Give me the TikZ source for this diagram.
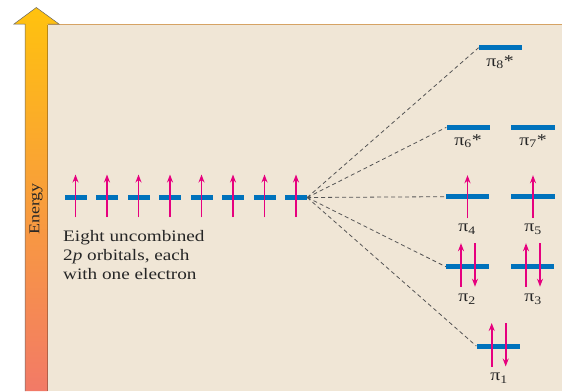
\documentclass[tikz,border=0pt]{standalone}
\usepackage{fontspec}
\setmainfont[FakeStretch=1.2]{Liberation Serif}
\usetikzlibrary{arrows.meta}

\definecolor{panelbg}{RGB}{240,230,214}
\definecolor{paneltop}{RGB}{214,163,100}
\definecolor{panelside}{RGB}{55,40,30}
\definecolor{orbblue}{RGB}{0,114,188}
\definecolor{spin}{RGB}{230,0,126}
\definecolor{arrtop}{RGB}{255,194,14}
\definecolor{arrbot}{RGB}{242,122,103}
\definecolor{dashgray}{RGB}{85,85,85}

\begin{document}
\begin{tikzpicture}[x=1pt,y=-1pt,
  orb/.style={rectangle, fill=orbblue, inner sep=0pt, minimum height=5pt, minimum width=43pt},
  espin/.style={draw=spin, fill=spin, line width=1.6pt, -{Stealth[length=8pt,width=6pt]}},
  conn/.style={draw=dashgray, line width=0.8pt, dash pattern=on 4pt off 3pt},
  lbl/.style={font=\fontsize{16.5}{18}\selectfont, inner sep=0pt, text=black!85}
]
\useasboundingbox (0,0) rectangle (562,391);

% background panel
\fill[panelbg] (47.5,24.5) rectangle (562,391);
\draw[paneltop, line width=1.5pt] (47.5,24.5) -- (562,24.5);
\draw[panelside, line width=1pt] (47.5,24.5) -- (47.5,391);

% energy axis arrow
\shade[top color=arrtop, bottom color=arrbot]
  (25,391) -- (25,24) -- (14,24) -- (36.3,7.5) -- (59,24) -- (47.5,24) -- (47.5,391) -- cycle;
\draw[gray!80!black, line width=0.5pt]
  (25,391) -- (25,24) -- (14,24) -- (36.3,7.5) -- (59,24) -- (47.5,24);
\node[lbl, rotate=90, font=\fontsize{15}{16}\selectfont] (energy) at (36,209) {Energy};

% eight uncombined 2p orbitals
\foreach \i in {1,...,8} {
  \node[orb, minimum width=22pt] (p\i) at ({75.5+31.5*(\i-1)},197.5) {};
  \draw[espin] ([yshift=-19.5pt]p\i.center) -- ([yshift=23pt]p\i.center);
}
\node[lbl, anchor=base west, align=left, font=\fontsize{16}{18.7}\selectfont] (caption) at (63,279)
  {Eight uncombined\\2\textit{p} orbitals, each\\with one electron};

% molecular pi orbitals
\node[orb] (s8) at (500.3,47.7) {};
\node[orb] (s6) at (468,127.3) {};
\node[orb, minimum width=44pt] (s7) at (533,127.3) {};
\node[orb] (s4) at (467.5,196.7) {};
\node[orb, minimum width=44pt] (s5) at (533,196.7) {};
\node[orb] (s2) at (467.5,266.7) {};
\node[orb] (s3) at (532.5,266.7) {};
\node[orb] (s1) at (498,346) {};

% electrons in the bonding orbitals
\foreach \s in {s4,s5} {
  \draw[espin] ([yshift=-21.5pt]\s.center) -- ([yshift=21.5pt]\s.center);
}
\foreach \s in {s2,s3} {
  \draw[espin] ([xshift=-6.5pt,yshift=-20pt]\s.center) -- ([xshift=-6.5pt,yshift=23.5pt]\s.center);
  \draw[espin] ([xshift=7.5pt,yshift=23.5pt]\s.center) -- ([xshift=7.5pt,yshift=-20pt]\s.center);
}
\draw[espin] ([xshift=-6.3pt,yshift=-20.5pt]s1.center) -- ([xshift=-6.3pt,yshift=23pt]s1.center);
\draw[espin] ([xshift=7.7pt,yshift=23pt]s1.center) -- ([xshift=7.7pt,yshift=-20.5pt]s1.center);

% labels
\node[lbl] (l8) at (500,62) {π\textsubscript{8}*};
\node[lbl] (l6) at (468,141) {π\textsubscript{6}*};
\node[lbl] (l7) at (533,141) {π\textsubscript{7}*};
\node[lbl] (l4) at (467,229) {π\textsubscript{4}};
\node[lbl] (l5) at (533,229) {π\textsubscript{5}};
\node[lbl] (l2) at (467,299) {π\textsubscript{2}};
\node[lbl] (l3) at (533,299) {π\textsubscript{3}};
\node[lbl] (l1) at (499,378) {π\textsubscript{1}};

% correlation lines
\draw[conn] (p8.east) -- (s8.west);
\draw[conn] (p8.east) -- (s6.west);
\draw[conn] (p8.east) -- (s4.west);
\draw[conn] (p8.east) -- (s2.west);
\draw[conn] (p8.east) -- (s1.west);
\end{tikzpicture}
\end{document}
